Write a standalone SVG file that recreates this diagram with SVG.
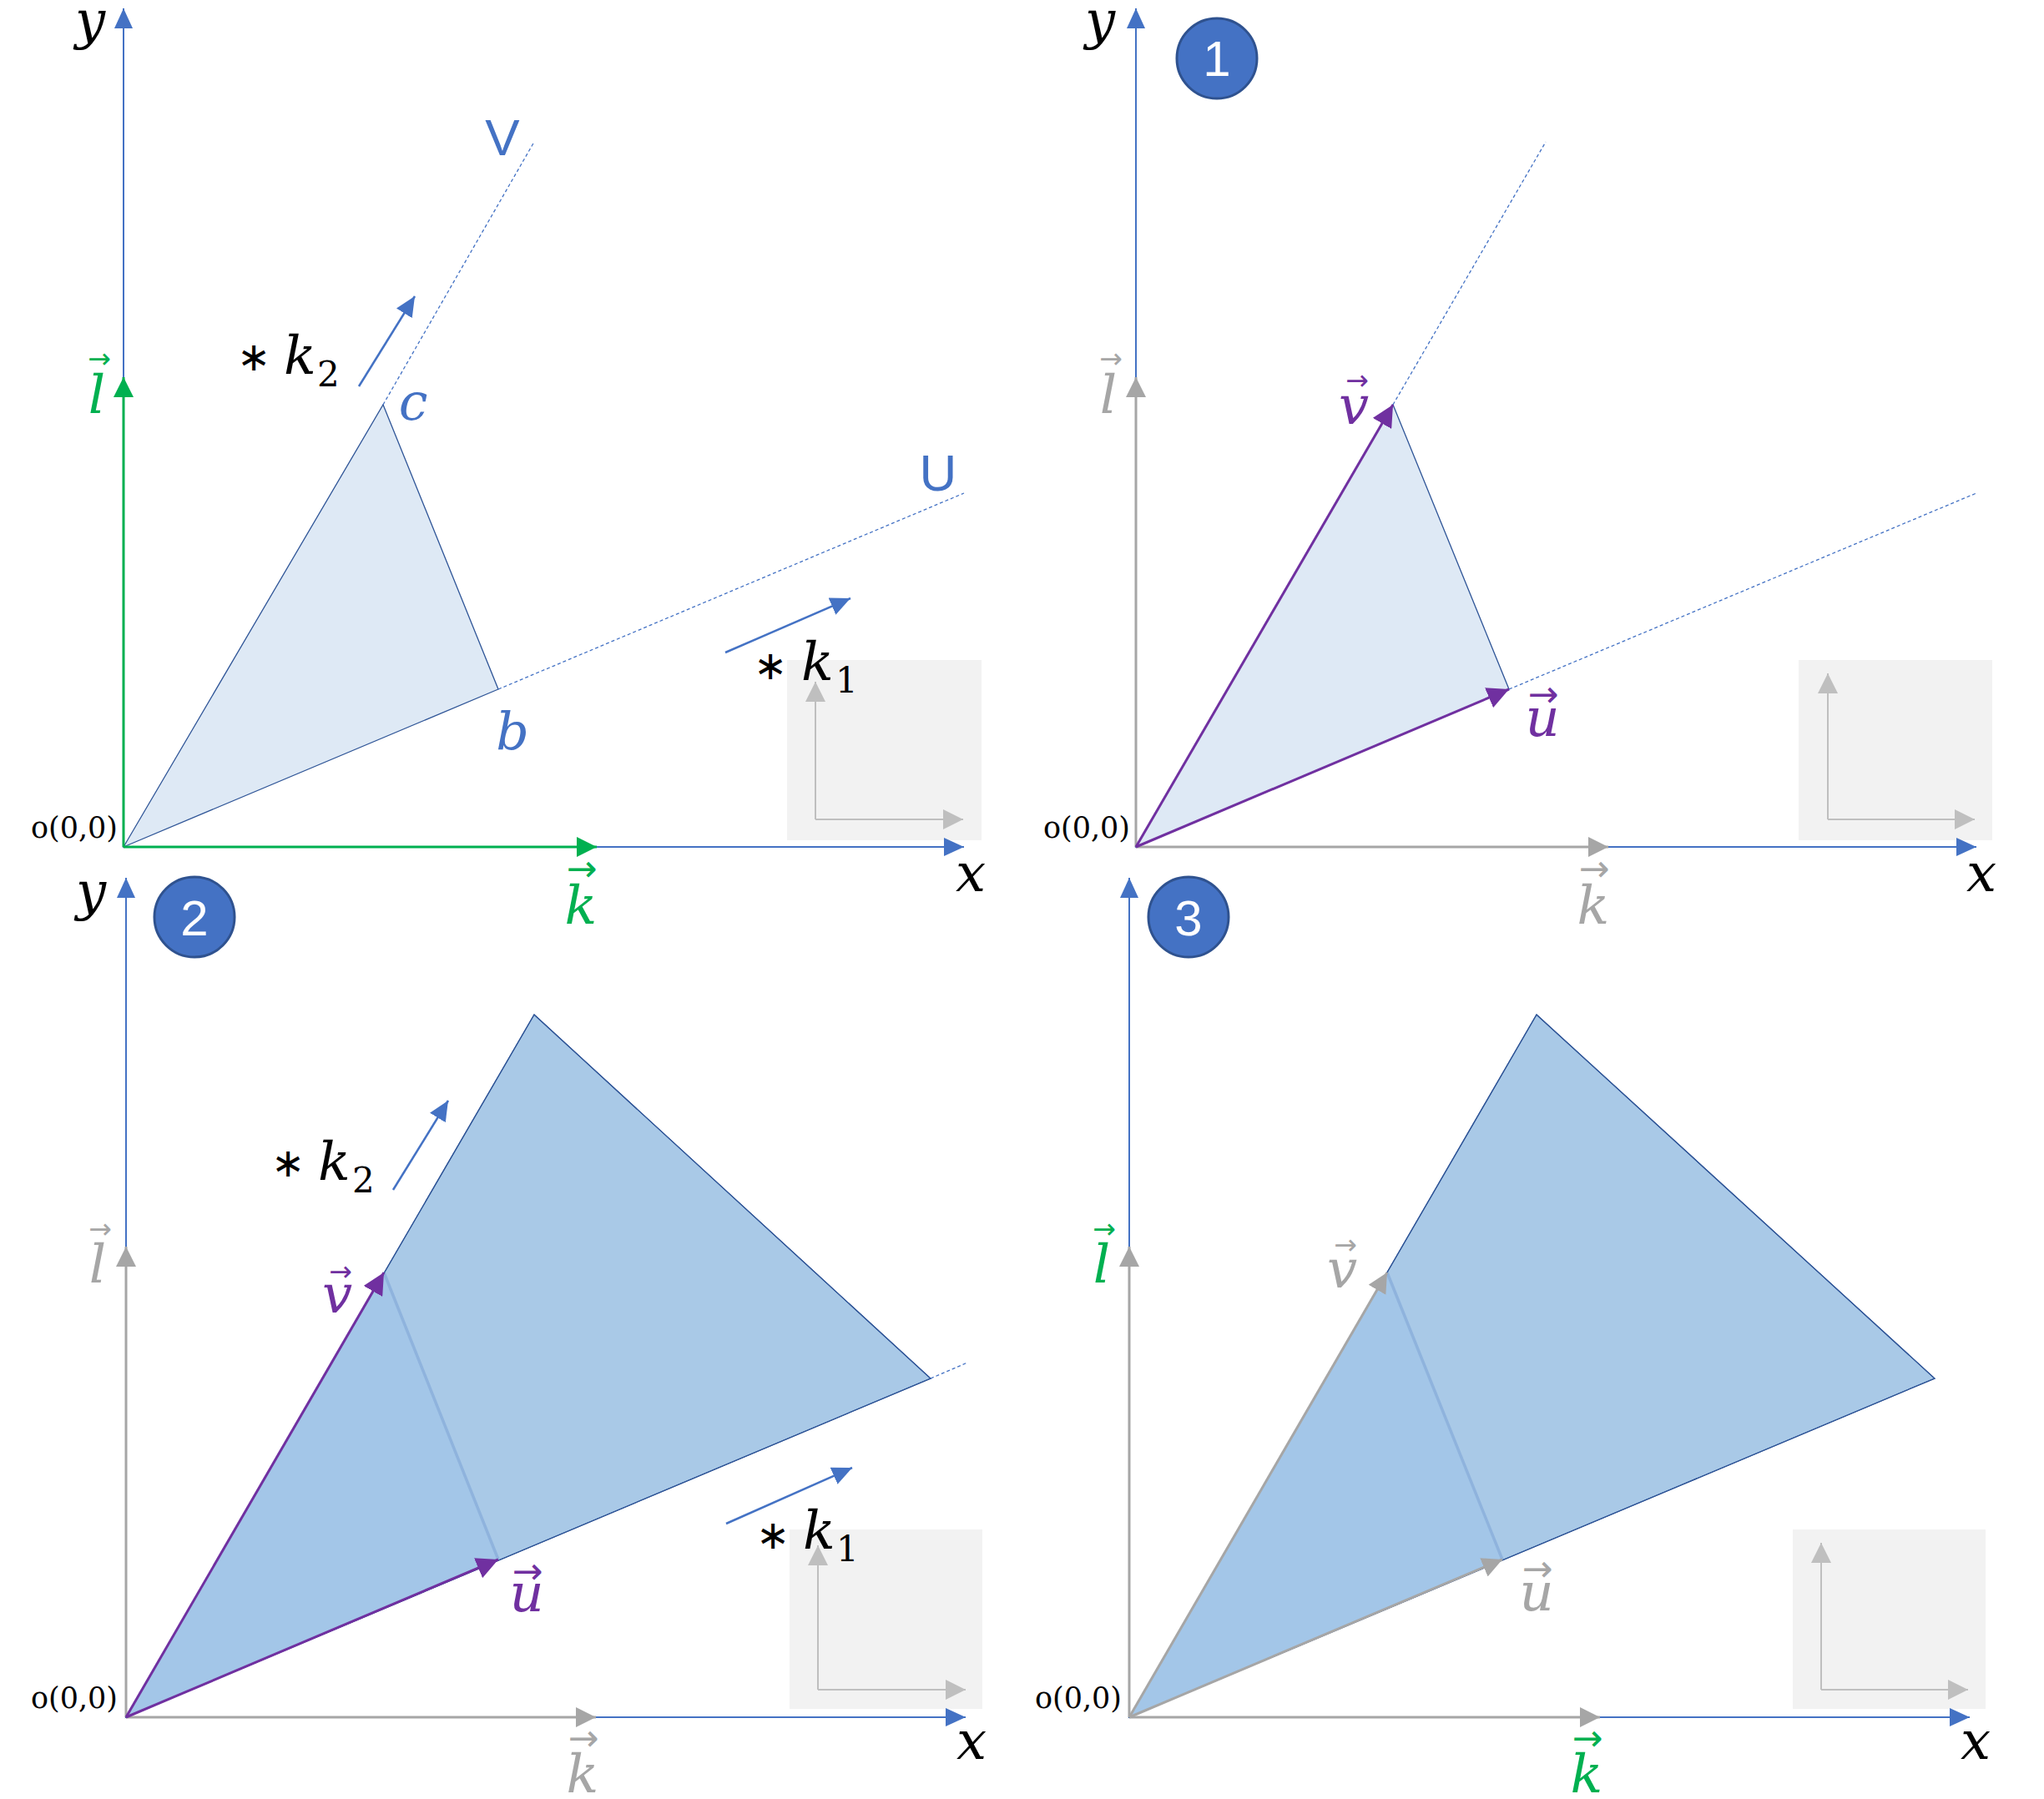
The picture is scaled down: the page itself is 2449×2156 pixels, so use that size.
<svg xmlns="http://www.w3.org/2000/svg" width="2449" height="2156" viewBox="0 0 2449 2156">
<defs>
<marker id="ah-blue" viewBox="0 0 24 24" refX="24" refY="12" markerUnits="userSpaceOnUse" markerWidth="24" markerHeight="24" orient="auto"><path d="M0,1 L24,12 L0,23 z" fill="#4472c4"/></marker>
<marker id="ah-green" viewBox="0 0 24 24" refX="24" refY="12" markerUnits="userSpaceOnUse" markerWidth="24" markerHeight="24" orient="auto"><path d="M0,0 L24,12 L0,24 z" fill="#00b050"/></marker>
<marker id="ah-gray" viewBox="0 0 24 24" refX="24" refY="12" markerUnits="userSpaceOnUse" markerWidth="24" markerHeight="24" orient="auto"><path d="M0,0 L24,12 L0,24 z" fill="#a6a6a6"/></marker>
<marker id="ah-lgray" viewBox="0 0 24 24" refX="24" refY="12" markerUnits="userSpaceOnUse" markerWidth="24" markerHeight="24" orient="auto"><path d="M0,0 L24,12 L0,24 z" fill="#bfbfbf"/></marker>
<marker id="ah-purple" viewBox="0 0 26 26" refX="26" refY="13" markerUnits="userSpaceOnUse" markerWidth="26" markerHeight="26" orient="auto"><path d="M0,0 L26,13 L0,26 z" fill="#7030a0"/></marker>
</defs>
<style>
.axis{stroke:#4472c4;stroke-width:2;fill:none;marker-end:url(#ah-blue)}
.gv{stroke:#00b050;stroke-width:3;fill:none;marker-end:url(#ah-green)}
.grv{stroke:#a6a6a6;stroke-width:3;fill:none;marker-end:url(#ah-gray)}
.pv{stroke:#7030a0;stroke-width:3;fill:none;marker-end:url(#ah-purple)}
.karr{stroke:#4472c4;stroke-width:2.5;fill:none;marker-end:url(#ah-blue)}
.mini{stroke:#bfbfbf;stroke-width:2;fill:none;marker-end:url(#ah-lgray)}
.dash{stroke:#4472c4;stroke-width:1.3;stroke-dasharray:4 3;fill:none}
.box{fill:#f2f2f2}
.tri1{fill:#dee9f5;stroke:#2f5597;stroke-width:1.3}
.big{fill:#a9c9e7;stroke:#2f5597;stroke-width:1.2}
.inner{fill:#a3c6e8;stroke:none}
.inedge{stroke:#8fb3dd;stroke-width:3.5;fill:none}
.mi{font-family:"DejaVu Serif",serif;font-style:italic;font-size:64px}
.ml{font-family:"DejaVu Serif",serif;font-style:italic;font-size:62px}
.sub{font-family:"DejaVu Serif",serif;font-style:normal;font-size:42px}
.ast{font-family:"DejaVu Sans",sans-serif;font-style:normal;font-size:48px}
.vec{font-family:"DejaVu Serif",serif;font-style:italic;font-size:64px;text-anchor:middle}
.a1{font-family:"DejaVu Sans",sans-serif;font-style:normal;font-size:33px}
.a2{font-family:"DejaVu Sans",sans-serif;font-style:normal;font-size:44px}
.org{font-family:"DejaVu Serif",serif;font-size:35px;text-anchor:end;fill:#000}
.sans{font-family:"Liberation Sans",sans-serif;font-size:62px;fill:#4472c4;text-anchor:middle}
.num{font-family:"Liberation Sans",sans-serif;font-size:60px;fill:#ffffff;text-anchor:middle}
.badge{fill:#4472c4;stroke:#2f528f;stroke-width:3}
.c{text-anchor:middle}
</style>
<rect width="2449" height="2156" fill="#ffffff"/>

<!-- ===== Panel A (top-left) ===== -->
<g id="panelA">
  <rect id="A-box" class="box" x="943" y="791" width="233" height="216"/>
  <polygon id="A-triangle" class="tri1" points="148,1015 459,485 597,826"/>
  <text id="A-y" class="mi" x="90" y="46">y</text>
  <text id="A-x" class="mi" x="1145" y="1068">x</text>
  <text id="A-origin" class="org" x="141" y="1004">o(0,0)</text>
  <text id="A-l-label" class="vec" fill="#00b050"><tspan class="a1" x="119" y="441">→</tspan><tspan x="116" y="495">l</tspan></text>
  <text id="A-k-label" class="vec" fill="#00b050"><tspan class="a2" x="697" y="1056">→</tspan><tspan x="696" y="1107">k</tspan></text>
  <text id="A-V" class="sans" x="602" y="186">V</text>
  <text id="A-U" class="sans" x="1124" y="588">U</text>
  <text id="A-c" class="ml c" x="495" y="503" fill="#4472c4">c</text>
  <text id="A-b" class="ml c" x="614" y="898" fill="#4472c4">b</text>
  <text id="A-k2-label" class="mi"><tspan class="ast" x="284" y="444">∗</tspan><tspan x="340" y="448">k</tspan><tspan class="sub" x="380" y="463">2</tspan></text>
  <text id="A-k1-label" class="mi"><tspan class="ast" x="903" y="814">∗</tspan><tspan x="960" y="815">k</tspan><tspan class="sub" x="1001" y="830">1</tspan></text>
</g>

<!-- ===== Panel B (top-right) ===== -->
<g id="panelB">
  <rect id="B-box" class="box" x="2155" y="791" width="232" height="216"/>
  <polygon id="B-triangle" class="tri1" points="1361,1015 1669,485 1808,826"/>
  <text id="B-y" class="mi" x="1300" y="46">y</text>
  <text id="B-x" class="mi" x="2356" y="1068">x</text>
  <text id="B-origin" class="org" x="1354" y="1004">o(0,0)</text>
  <g id="B-badge"><circle class="badge" cx="1458" cy="70" r="48"/><text class="num" x="1458" y="91">1</text></g>
  <text id="B-l-label" class="vec" fill="#a6a6a6"><tspan class="a1" x="1331" y="441">→</tspan><tspan x="1328" y="495">l</tspan></text>
  <text id="B-k-label" class="vec" fill="#a6a6a6"><tspan class="a2" x="1910" y="1056">→</tspan><tspan x="1909" y="1107">k</tspan></text>
  <text id="B-v-label" class="vec" fill="#7030a0"><tspan class="a1" x="1626" y="467">→</tspan><tspan x="1622" y="508">v</tspan></text>
  <text id="B-u-label" class="vec" fill="#7030a0"><tspan class="a2" x="1849" y="847">→</tspan><tspan x="1848" y="882">u</tspan></text>
</g>

<!-- ===== Panel C (bottom-left) ===== -->
<g id="panelC">
  <rect id="C-box" class="box" x="946" y="1833" width="231" height="215"/>
  <g id="C-shape">
    <polygon class="big" points="151,2058 640,1216 1115,1652"/>
    <polygon class="inner" points="151,2058 460,1525 597,1869"/>
    <line class="inedge" x1="460" y1="1525" x2="597" y2="1869"/>
    <polygon points="151,2058 640,1216 1115,1652" fill="none" stroke="#2f5597" stroke-width="1.2"/>
  </g>
  <text id="C-y" class="mi" x="91" y="1090">y</text>
  <text id="C-x" class="mi" x="1146" y="2108">x</text>
  <text id="C-origin" class="org" x="141" y="2047">o(0,0)</text>
  <g id="C-badge"><circle class="badge" cx="233" cy="1099" r="48"/><text class="num" x="233" y="1121">2</text></g>
  <text id="C-l-label" class="vec" fill="#a6a6a6"><tspan class="a1" x="120" y="1484">→</tspan><tspan x="117" y="1537">l</tspan></text>
  <text id="C-k-label" class="vec" fill="#a6a6a6"><tspan class="a2" x="699" y="2098">→</tspan><tspan x="698" y="2148">k</tspan></text>
  <text id="C-v-label" class="vec" fill="#7030a0"><tspan class="a1" x="408" y="1535">→</tspan><tspan x="404" y="1573">v</tspan></text>
  <text id="C-u-label" class="vec" fill="#7030a0"><tspan class="a2" x="632" y="1898">→</tspan><tspan x="631" y="1931">u</tspan></text>
  <text id="C-k2-label" class="mi"><tspan class="ast" x="325" y="1410">∗</tspan><tspan x="381" y="1414">k</tspan><tspan class="sub" x="422" y="1429">2</tspan></text>
  <text id="C-k1-label" class="mi"><tspan class="ast" x="906" y="1856">∗</tspan><tspan x="962" y="1856">k</tspan><tspan class="sub" x="1002" y="1871">1</tspan></text>
</g>

<!-- ===== Panel D (bottom-right) ===== -->
<g id="panelD">
  <rect id="D-box" class="box" x="2148" y="1833" width="231" height="215"/>
  <g id="D-shape">
    <polygon class="big" points="1353,2058 1841,1216 2318,1652"/>
    <polygon class="inner" points="1353,2058 1662,1525 1800,1869"/>
    <line class="inedge" x1="1662" y1="1525" x2="1800" y2="1869"/>
    <polygon points="1353,2058 1841,1216 2318,1652" fill="none" stroke="#2f5597" stroke-width="1.2"/>
  </g>
  <text id="D-x" class="mi" x="2349" y="2108">x</text>
  <text id="D-origin" class="org" x="1344" y="2047">o(0,0)</text>
  <g id="D-badge"><circle class="badge" cx="1424" cy="1099" r="48"/><text class="num" x="1424" y="1121">3</text></g>
  <text id="D-l-label" class="vec" fill="#00b050"><tspan class="a1" x="1323" y="1484">→</tspan><tspan x="1320" y="1537">l</tspan></text>
  <text id="D-k-label" class="vec" fill="#00b050"><tspan class="a2" x="1902" y="2098">→</tspan><tspan x="1901" y="2148">k</tspan></text>
  <text id="D-v-label" class="vec" fill="#a6a6a6"><tspan class="a1" x="1612" y="1503">→</tspan><tspan x="1608" y="1543">v</tspan></text>
  <text id="D-u-label" class="vec" fill="#a6a6a6"><tspan class="a2" x="1842" y="1895">→</tspan><tspan x="1841" y="1930">u</tspan></text>
</g>

<!-- ===== Connectors ===== -->
<g id="connectors">
  <!-- Panel A -->
  <line class="dash" x1="459" y1="485" x2="640" y2="170"/>
  <line class="dash" x1="597" y1="826" x2="1155" y2="591"/>
  <line class="axis" x1="148" y1="1015" x2="148" y2="10"/>
  <line class="axis" x1="148" y1="1015" x2="1155" y2="1015"/>
  <line class="gv" x1="148" y1="1015" x2="148" y2="452"/>
  <line class="gv" x1="148" y1="1015" x2="715" y2="1015"/>
  <line class="karr" x1="430" y1="463" x2="497" y2="355"/>
  <line class="karr" x1="869" y1="782" x2="1019" y2="717"/>
  <line class="mini" x1="977" y1="982" x2="977" y2="817"/>
  <line class="mini" x1="977" y1="982" x2="1154" y2="982"/>
  <!-- Panel B -->
  <line class="dash" x1="1669" y1="485" x2="1852" y2="170"/>
  <line class="dash" x1="1808" y1="826" x2="2368" y2="591"/>
  <line class="axis" x1="1361" y1="1015" x2="1361" y2="10"/>
  <line class="axis" x1="1361" y1="1015" x2="2368" y2="1015"/>
  <line class="grv" x1="1361" y1="1015" x2="1361" y2="452"/>
  <line class="grv" x1="1361" y1="1015" x2="1927" y2="1015"/>
  <line class="pv" x1="1361" y1="1015" x2="1669" y2="485"/>
  <line class="pv" x1="1361" y1="1015" x2="1808" y2="826"/>
  <line class="mini" x1="2190" y1="982" x2="2190" y2="807"/>
  <line class="mini" x1="2190" y1="982" x2="2366" y2="982"/>
  <!-- Panel C -->
  <line class="dash" x1="1115" y1="1652" x2="1159" y2="1633"/>
  <line class="axis" x1="151" y1="2058" x2="151" y2="1052"/>
  <line class="axis" x1="151" y1="2058" x2="1157" y2="2058"/>
  <line class="grv" x1="151" y1="2058" x2="151" y2="1494"/>
  <line class="grv" x1="151" y1="2058" x2="714" y2="2058"/>
  <line class="pv" x1="151" y1="2058" x2="460" y2="1525"/>
  <line class="pv" x1="151" y1="2058" x2="597" y2="1869"/>
  <line class="karr" x1="471" y1="1426" x2="537" y2="1319"/>
  <line class="karr" x1="870" y1="1826" x2="1021" y2="1759"/>
  <line class="mini" x1="980" y1="2025" x2="980" y2="1852"/>
  <line class="mini" x1="980" y1="2025" x2="1157" y2="2025"/>
  <!-- Panel D -->
  <line class="axis" x1="1353" y1="2058" x2="1353" y2="1052"/>
  <line class="axis" x1="1353" y1="2058" x2="2360" y2="2058"/>
  <line class="grv" x1="1353" y1="2058" x2="1353" y2="1494"/>
  <line class="grv" x1="1353" y1="2058" x2="1917" y2="2058"/>
  <line class="grv" x1="1353" y1="2058" x2="1662" y2="1525"/>
  <line class="grv" x1="1353" y1="2058" x2="1800" y2="1869"/>
  <line class="mini" x1="2182" y1="2025" x2="2182" y2="1849"/>
  <line class="mini" x1="2182" y1="2025" x2="2358" y2="2025"/>
</g>
</svg>
